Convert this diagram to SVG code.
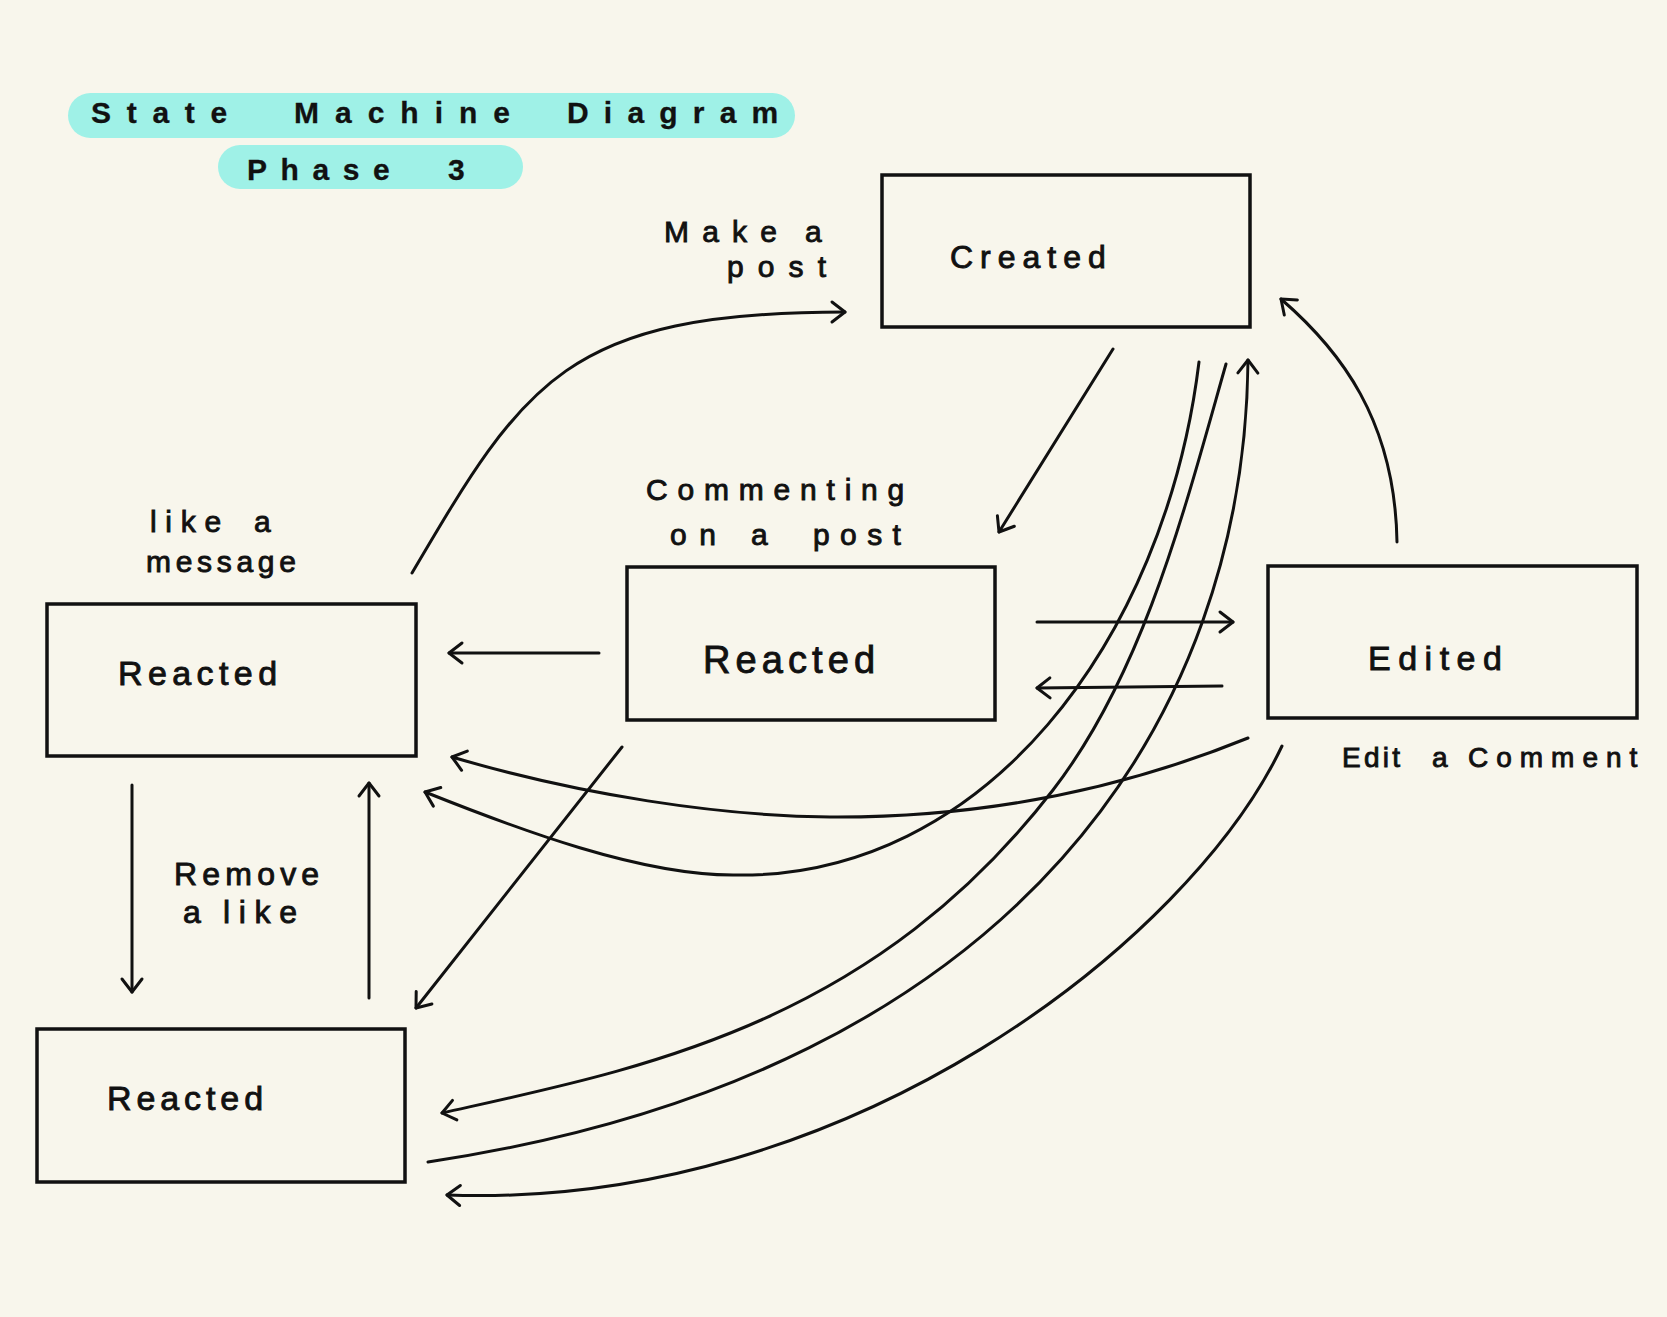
<svg xmlns="http://www.w3.org/2000/svg" width="1667" height="1317" viewBox="0 0 1667 1317">
<style>
.bg{fill:#f8f6ec}
.pill{fill:#9ff1e7}
.box{fill:none;stroke:#111;stroke-width:3.5}
.t{font-family:"Liberation Sans",Arial,sans-serif;fill:#111;stroke:#111;stroke-width:0.9}
.title{font-weight:bold;font-size:30px;stroke-width:0.3}
.edge{fill:none;stroke:#111;stroke-width:3;stroke-linecap:round}
.arr{marker-end:url(#ah)}
</style>
<defs>
<marker id="ah" markerUnits="userSpaceOnUse" viewBox="-20 -15 25 30" refX="0" refY="0" markerWidth="25" markerHeight="30" orient="auto">
<path d="M-13,-10 L0,0 L-13,10" fill="none" stroke="#111" stroke-width="3" stroke-linecap="round" stroke-linejoin="round"/>
</marker>
</defs>
<rect class="bg" x="0" y="0" width="1667" height="1317"/>
<g id="title">
<rect class="pill" x="68" y="93" width="727" height="45" rx="22.5"/>
<rect class="pill" x="218" y="145" width="305" height="44" rx="22"/>
<text class="t title" y="123"><tspan x="91" letter-spacing="15.7">State</tspan><tspan> </tspan><tspan x="294" letter-spacing="16">Machine</tspan><tspan> </tspan><tspan x="567" letter-spacing="15.2">Diagram</tspan></text>
<text class="t title" y="180"><tspan x="247" letter-spacing="13.6">Phase</tspan><tspan> </tspan><tspan x="448">3</tspan></text>
</g>
<g id="connectors">
<path class="edge arr" d="M412,573 C524,383 565,312 845,312"/>
<path class="edge arr" d="M1113,349 L999,532"/>
<path class="edge arr" d="M599,653 L449,653"/>
<path class="edge arr" d="M1037,622 L1233,622"/>
<path class="edge arr" d="M1222,686 L1037,688"/>
<path class="edge arr" d="M1397,542 C1395,420 1340,350 1281,299"/>
<path class="edge arr" d="M132,785 L132,992"/>
<path class="edge arr" d="M369,998 L369,783"/>
<path class="edge arr" d="M622,747 L416,1008"/>
<path class="edge arr" d="M1248,738 C1120,790 980,818 830,817 C720,816 580,795 452,757"/>
<path class="edge arr" d="M1199,362 C1165,640 985,880 733,875 C640,875 520,830 425,792"/>
<path class="edge arr" d="M1226,364 C1185,508 1144,672 1053,790 C870,1027 638,1069 442,1113"/>
<path class="edge arr" d="M428,1162 C1028,1072 1245,710 1248,360"/>
<path class="edge arr" d="M1282,746 C1190,940 850,1210 447,1195"/>
</g>
<g id="labels">
<text class="t" font-size="30" y="242"><tspan x="664" letter-spacing="13.2">Make</tspan><tspan> </tspan><tspan x="805">a</tspan></text>
<text class="t" font-size="30" y="277" x="727" letter-spacing="14.1">post</text>
<text class="t" font-size="30" y="500" x="646" letter-spacing="9.8">Commenting</text>
<text class="t" font-size="30" y="545"><tspan x="670" letter-spacing="12.6">on</tspan><tspan> </tspan><tspan x="751">a</tspan><tspan> </tspan><tspan x="813" letter-spacing="10.4">post</tspan></text>
<text class="t" font-size="30" y="532"><tspan x="150" letter-spacing="8.7">like</tspan><tspan> </tspan><tspan x="254">a</tspan></text>
<text class="t" font-size="30" y="572" x="146" letter-spacing="4.7">message</text>
<text class="t" font-size="32" y="885" x="174" letter-spacing="5.2">Remove</text>
<text class="t" font-size="32" y="923"><tspan x="183">a</tspan><tspan> </tspan><tspan x="223" letter-spacing="8.7">like</tspan></text>
<text class="t" font-size="28" y="767"><tspan x="1342" letter-spacing="3.3">Edit</tspan><tspan> </tspan><tspan x="1432">a</tspan><tspan> </tspan><tspan x="1468" letter-spacing="8">Comment</tspan></text>
</g>
<g id="node-created">
<rect class="box" x="882" y="175" width="368" height="152"/>
<text class="t" font-size="32" x="950" y="268" letter-spacing="7">Created</text>
</g>
<g id="node-reacted-center">
<rect class="box" x="627" y="567" width="368" height="153"/>
<text class="t" font-size="38" x="703" y="673" letter-spacing="5.1">Reacted</text>
</g>
<g id="node-reacted-left">
<rect class="box" x="47" y="604" width="369" height="152"/>
<text class="t" font-size="34" x="118" y="685" letter-spacing="5.4">Reacted</text>
</g>
<g id="node-reacted-bottom">
<rect class="box" x="37" y="1029" width="368" height="153"/>
<text class="t" font-size="34" x="107" y="1110" letter-spacing="4.9">Reacted</text>
</g>
<g id="node-edited">
<rect class="box" x="1268" y="566" width="369" height="152"/>
<text class="t" font-size="34" x="1368" y="670" letter-spacing="7.5">Edited</text>
</g>
</svg>
